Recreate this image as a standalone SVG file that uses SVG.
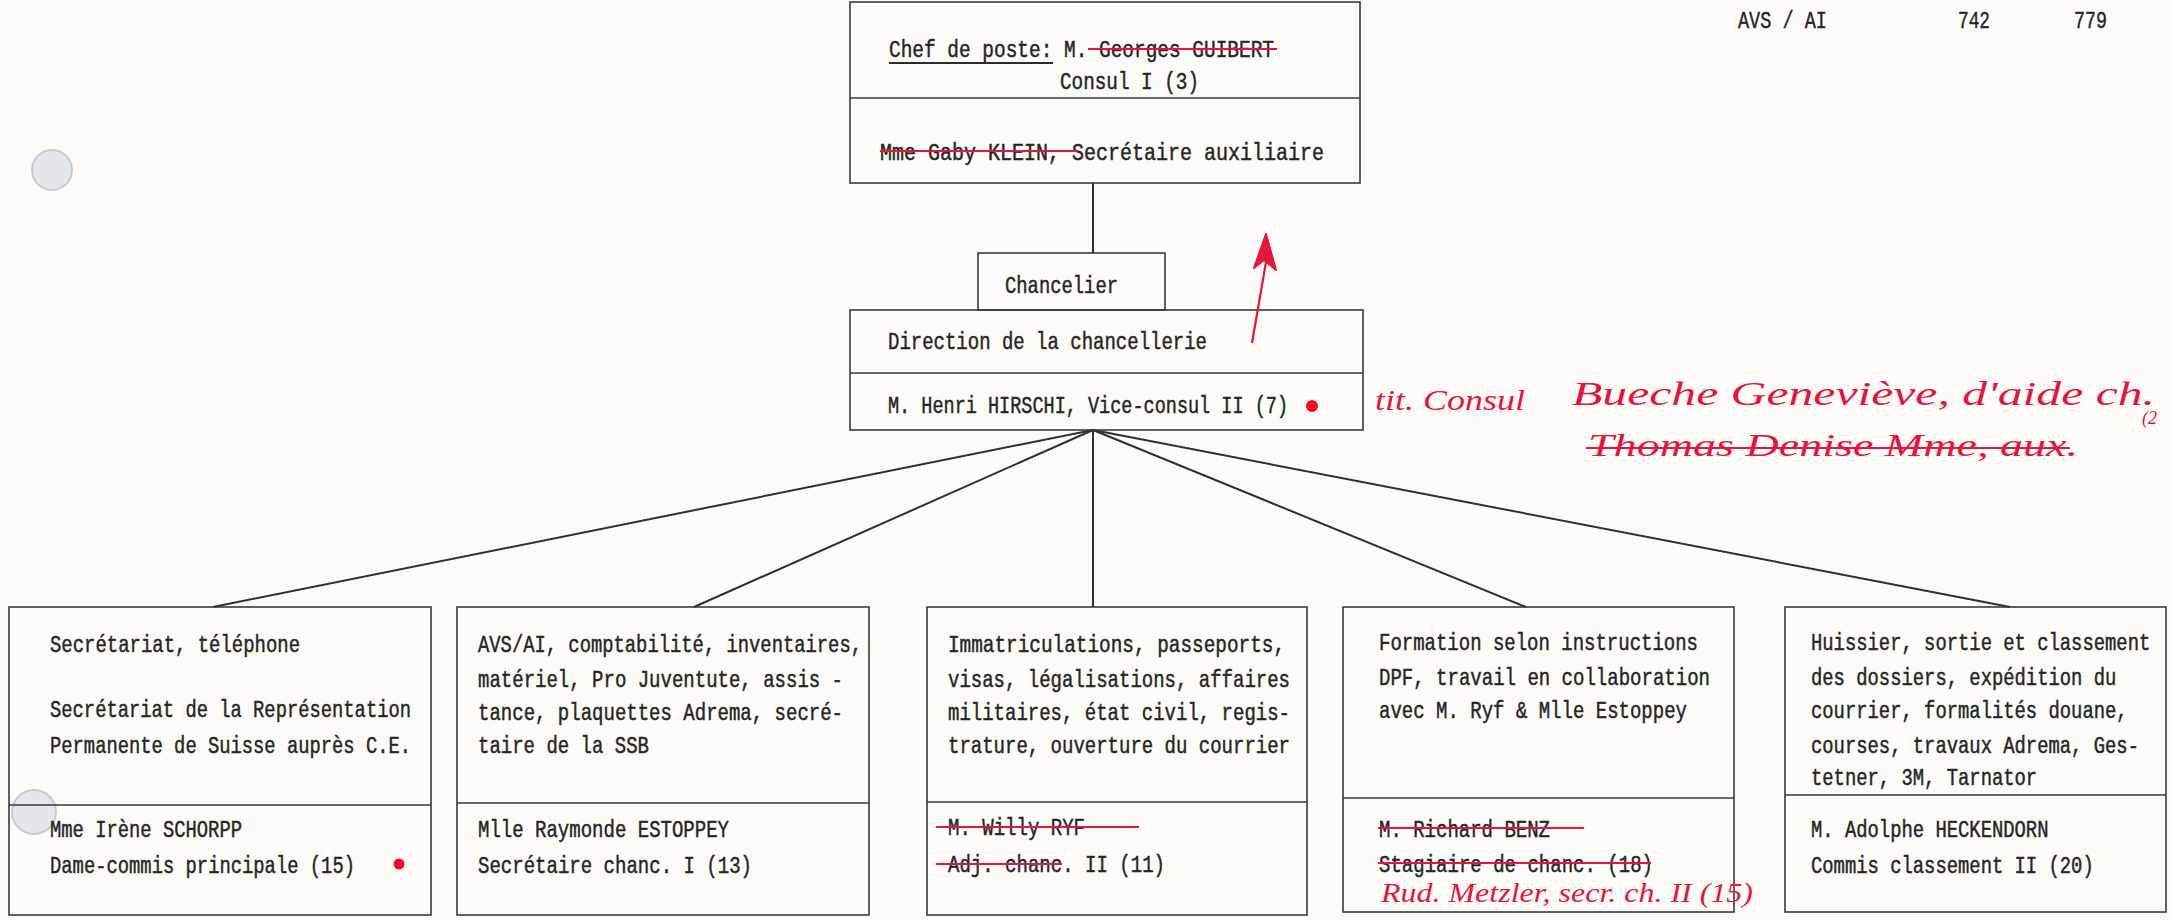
<svg xmlns="http://www.w3.org/2000/svg" width="2170" height="920" viewBox="0 0 2170 920">
<defs>
<style>
.bg{fill:#fcfbf8}
.box{fill:none;stroke:#3a3a3a;stroke-width:1.6}
.div{stroke:#3a3a3a;stroke-width:1.6}
.t{font-family:"Liberation Mono","DejaVu Sans Mono",monospace;font-size:23px;fill:#262626;stroke:#262626;stroke-width:0.45}
.h{font-family:"Liberation Mono","DejaVu Sans Mono",monospace;font-size:23px;fill:#262626;stroke:#262626;stroke-width:0.4}
.hw{font-family:"Liberation Serif","DejaVu Serif",serif;font-style:italic;fill:#e3173e}
.strike{stroke:#e3173e;stroke-width:2.2}
.con{stroke:#2f2f2f;stroke-width:2;fill:none}
.dot{fill:#e8102a}
.hole{fill:#e4e7ea;stroke:#c9cccf;stroke-width:2}
</style>
</defs>
<rect class="bg" x="0" y="0" width="2170" height="920"/>

<!-- punch holes -->
<circle class="hole" cx="52" cy="170" r="20"/>
<circle class="hole" cx="34" cy="812" r="22"/>

<!-- header -->
<g id="header">
<text class="h" x="1738" y="28" textLength="89" lengthAdjust="spacingAndGlyphs">AVS / AI</text>
<text class="h" x="1958" y="28" textLength="32" lengthAdjust="spacingAndGlyphs">742</text>
<text class="h" x="2074" y="28" textLength="33" lengthAdjust="spacingAndGlyphs">779</text>
</g>

<!-- connectors -->
<g id="connectors">
<line class="con" x1="1093" y1="183" x2="1093" y2="253"/>
<line class="con" x1="1093" y1="430" x2="213" y2="607"/>
<line class="con" x1="1093" y1="430" x2="694" y2="607"/>
<line class="con" x1="1093" y1="430" x2="1093" y2="607"/>
<line class="con" x1="1093" y1="430" x2="1526" y2="607"/>
<line class="con" x1="1093" y1="430" x2="2010" y2="607"/>
</g>

<!-- chef de poste -->
<g id="chef">
<rect class="box" x="850" y="2" width="510" height="181"/>
<line class="div" x1="850" y1="98" x2="1360" y2="98"/>
<text class="t" x="889" y="57" textLength="385" lengthAdjust="spacingAndGlyphs">Chef de poste: M. Georges GUIBERT</text>
<line x1="889" y1="63" x2="1053" y2="63" stroke="#2b2b2b" stroke-width="2"/>
<line class="strike" x1="1088" y1="49" x2="1277" y2="49"/>
<text class="t" x="1060" y="89" textLength="139" lengthAdjust="spacingAndGlyphs">Consul I (3)</text>
<text class="t" x="880" y="160" textLength="444" lengthAdjust="spacingAndGlyphs">Mme Gaby KLEIN, Secrétaire auxiliaire</text>
<line class="strike" x1="880" y1="151" x2="1078" y2="151"/>
</g>

<!-- chancelier -->
<g id="chancelier">
<rect class="box" x="978" y="253" width="187" height="57"/>
<text class="t" x="1005" y="293" textLength="113" lengthAdjust="spacingAndGlyphs">Chancelier</text>
</g>

<!-- direction -->
<g id="direction">
<rect class="box" x="850" y="310" width="513" height="120"/>
<line class="div" x1="850" y1="373" x2="1363" y2="373"/>
<text class="t" x="888" y="349" textLength="319" lengthAdjust="spacingAndGlyphs">Direction de la chancellerie</text>
<text class="t" x="888" y="413" textLength="400" lengthAdjust="spacingAndGlyphs">M. Henri HIRSCHI, Vice-consul II (7)</text>
<circle class="dot" cx="1312" cy="406" r="6"/>
</g>

<!-- annotations -->
<g id="annotations">
<line x1="1252" y1="343" x2="1266" y2="262" stroke="#e3173e" stroke-width="2.2"/>
<path d="M1266,234 L1254,268 L1264,260 L1276,270 Z" fill="#e3173e" stroke="#e3173e" stroke-width="2" stroke-linejoin="round"/>
<text class="hw" x="1375" y="410" font-size="30" textLength="150" lengthAdjust="spacingAndGlyphs">tit. Consul</text>
<text class="hw" x="1572" y="405" font-size="34" textLength="583" lengthAdjust="spacingAndGlyphs">Bueche Geneviève, d'aide ch.</text>
<text class="hw" x="2142" y="424" font-size="18">(2</text>
<text class="hw" x="1588" y="456" font-size="32" textLength="490" lengthAdjust="spacingAndGlyphs">Thomas Denise Mme, aux.</text>
<line class="strike" x1="1586" y1="448" x2="2070" y2="448"/>
</g>

<!-- box 1 -->
<g id="secretariat">
<rect class="box" x="9" y="607" width="422" height="308"/>
<line class="div" x1="9" y1="805" x2="431" y2="805"/>
<text class="t" x="50" y="652" textLength="250" lengthAdjust="spacingAndGlyphs">Secrétariat, téléphone</text>
<text class="t" x="50" y="717" textLength="361" lengthAdjust="spacingAndGlyphs">Secrétariat de la Représentation</text>
<text class="t" x="50" y="753" textLength="361" lengthAdjust="spacingAndGlyphs">Permanente de Suisse auprès C.E.</text>
<text class="t" x="50" y="837" textLength="192" lengthAdjust="spacingAndGlyphs">Mme Irène SCHORPP</text>
<text class="t" x="50" y="873" textLength="305" lengthAdjust="spacingAndGlyphs">Dame-commis principale (15)</text>
<circle class="dot" cx="399" cy="864" r="5.5"/>
</g>

<!-- box 2 -->
<g id="avs">
<rect class="box" x="457" y="607" width="412" height="308"/>
<line class="div" x1="457" y1="803" x2="869" y2="803"/>
<text class="t" x="478" y="652" textLength="384" lengthAdjust="spacingAndGlyphs">AVS/AI, comptabilité, inventaires,</text>
<text class="t" x="478" y="687" textLength="365" lengthAdjust="spacingAndGlyphs">matériel, Pro Juventute, assis -</text>
<text class="t" x="478" y="720" textLength="365" lengthAdjust="spacingAndGlyphs">tance, plaquettes Adrema, secré-</text>
<text class="t" x="478" y="753" textLength="171" lengthAdjust="spacingAndGlyphs">taire de la SSB</text>
<text class="t" x="478" y="837" textLength="251" lengthAdjust="spacingAndGlyphs">Mlle Raymonde ESTOPPEY</text>
<text class="t" x="478" y="873" textLength="274" lengthAdjust="spacingAndGlyphs">Secrétaire chanc. I (13)</text>
</g>

<!-- box 3 -->
<g id="immatriculations">
<rect class="box" x="927" y="607" width="380" height="308"/>
<line class="div" x1="927" y1="802" x2="1307" y2="802"/>
<text class="t" x="948" y="652" textLength="337" lengthAdjust="spacingAndGlyphs">Immatriculations, passeports,</text>
<text class="t" x="948" y="687" textLength="342" lengthAdjust="spacingAndGlyphs">visas, légalisations, affaires</text>
<text class="t" x="948" y="720" textLength="342" lengthAdjust="spacingAndGlyphs">militaires, état civil, regis-</text>
<text class="t" x="948" y="753" textLength="342" lengthAdjust="spacingAndGlyphs">trature, ouverture du courrier</text>
<text class="t" x="948" y="835" textLength="137" lengthAdjust="spacingAndGlyphs">M. Willy RYF</text>
<line class="strike" x1="936" y1="827" x2="1139" y2="827"/>
<text class="t" x="948" y="872" textLength="217" lengthAdjust="spacingAndGlyphs">Adj. chanc. II (11)</text>
<line class="strike" x1="936" y1="864" x2="1062" y2="864"/>
</g>

<!-- box 4 -->
<g id="formation">
<rect class="box" x="1343" y="607" width="391" height="305"/>
<line class="div" x1="1343" y1="798" x2="1734" y2="798"/>
<text class="t" x="1379" y="650" textLength="319" lengthAdjust="spacingAndGlyphs">Formation selon instructions</text>
<text class="t" x="1379" y="685" textLength="331" lengthAdjust="spacingAndGlyphs">DPF, travail en collaboration</text>
<text class="t" x="1379" y="718" textLength="308" lengthAdjust="spacingAndGlyphs">avec M. Ryf &amp; Mlle Estoppey</text>
<text class="t" x="1379" y="837" textLength="171" lengthAdjust="spacingAndGlyphs">M. Richard BENZ</text>
<line class="strike" x1="1378" y1="828" x2="1584" y2="828"/>
<text class="t" x="1379" y="872" textLength="274" lengthAdjust="spacingAndGlyphs">Stagiaire de chanc. (18)</text>
<line class="strike" x1="1378" y1="863" x2="1651" y2="863"/>
<text class="hw" x="1381" y="902" font-size="27" textLength="372" lengthAdjust="spacingAndGlyphs">Rud. Metzler, secr. ch. II (15)</text>
</g>

<!-- box 5 -->
<g id="huissier">
<rect class="box" x="1785" y="607" width="381" height="305"/>
<line class="div" x1="1785" y1="795" x2="2166" y2="795"/>
<g transform="translate(1811,0) scale(0.82,1)">
<text class="t" x="0" y="650">Huissier, sortie et classement</text>
<text class="t" x="0" y="685">des dossiers, expédition du</text>
<text class="t" x="0" y="718">courrier, formalités douane,</text>
<text class="t" x="0" y="753">courses, travaux Adrema, Ges-</text>
<text class="t" x="0" y="785">tetner, 3M, Tarnator</text>
<text class="t" x="0" y="837">M. Adolphe HECKENDORN</text>
<text class="t" x="0" y="873">Commis classement II (20)</text>
</g>
</g>
</svg>
